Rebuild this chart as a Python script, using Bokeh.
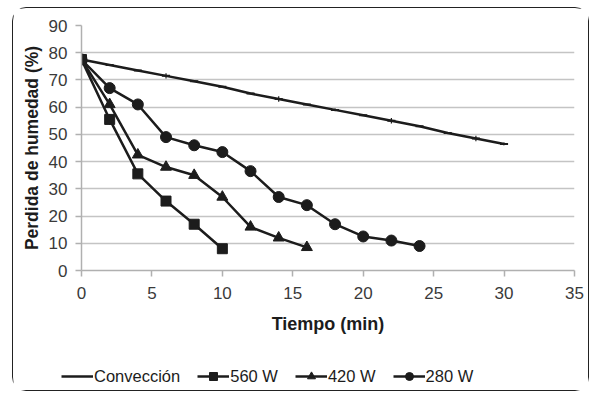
from bokeh.plotting import figure
from bokeh.layouts import column, row
from bokeh.models import Legend, LegendItem, Whisker, ColumnDataSource, FixedTicker
from bokeh.embed import file_html
from bokeh.resources import INLINE

# Data
t_conv = [0, 2, 4, 6, 8, 10, 12, 14, 16, 18, 20, 22, 24, 26, 28, 30]
conv = [77.5, 75.5, 73.5, 71.5, 69.5, 67.5, 65, 63, 61, 59, 57, 55, 53, 50.5, 48.5, 46.5]
conv_err = [0, 0, 0, 1, 0, 0, 0, 1, 0, 0.5, 0, 1, 0, 0, 1, 0.5]

t_560 = [0, 2, 4, 6, 8, 10]
w560 = [77.5, 55.5, 35.5, 25.5, 17, 8]
w560_err = [1.5, 2, 1, 0.5, 0.5, 0.5]

t_420 = [0, 2, 4, 6, 8, 10, 12, 14, 16]
w420 = [77.5, 61, 42.5, 38, 35, 27, 16, 12, 8.5]

t_280 = [0, 2, 4, 6, 8, 10, 12, 14, 16, 18, 20, 22, 24]
w280 = [77.5, 67, 61, 49, 46, 43.5, 36.5, 27, 24, 17, 12.5, 11, 9]

series_labels = ["Convección", "560 W", "420 W", "280 W"]
x_ticks = [0, 5, 10, 15, 20, 25, 30, 35]
y_ticks = [0, 10, 20, 30, 40, 50, 60, 70, 80, 90]

FONT = "Liberation Sans"
INK = "#1c1c1c"
LW = 2.5

p = figure(width=575, height=335, x_range=(0, 35), y_range=(0, 90),
           output_backend="svg", toolbar_location=None,
           min_border_left=68, min_border_right=14, min_border_top=17, min_border_bottom=73)
p.outline_line_color = None
p.background_fill_color = "white"
p.border_fill_color = "white"

p.xgrid.grid_line_color = None
p.ygrid.grid_line_color = "#c4c4c4"
p.ygrid.grid_line_width = 1.5

p.xaxis.ticker = FixedTicker(ticks=x_ticks)
p.yaxis.ticker = FixedTicker(ticks=y_ticks)
for ax in (p.xaxis, p.yaxis):
    ax.axis_line_color = "#b0b0b0"
    ax.axis_line_width = 1.5
    ax.major_tick_line_color = "#b0b0b0"
    ax.major_tick_line_width = 1.5
    ax.major_tick_in = 0
    ax.major_tick_out = 6
    ax.minor_tick_line_color = None
    ax.major_label_text_font = FONT
    ax.major_label_text_font_size = "17px"
    ax.major_label_text_color = "#3a3a3a"
    ax.axis_label_text_font = FONT
    ax.axis_label_text_font_style = "bold"
    ax.axis_label_text_color = INK
p.xaxis.axis_label_text_font_size = "18px"
p.yaxis.axis_label_text_font_size = "17.5px"
p.xaxis.major_label_standoff = 10
p.yaxis.major_label_standoff = 8
p.xaxis.axis_label = "Tiempo (min)"
p.yaxis.axis_label = "Perdida de humedad (%)"
p.xaxis.axis_label_standoff = 12
p.yaxis.axis_label_standoff = 4

# Error bars
src_c = ColumnDataSource(dict(x=t_conv, y=conv,
                              lo=[v - e for v, e in zip(conv, conv_err)],
                              hi=[v + e for v, e in zip(conv, conv_err)]))
p.add_layout(Whisker(source=src_c, base="x", lower="lo", upper="hi",
                     line_color=INK, line_width=1.2,
                     upper_head=None, lower_head=None))
src_5 = ColumnDataSource(dict(x=t_560, y=w560,
                              lo=[v - e for v, e in zip(w560, w560_err)],
                              hi=[v + e for v, e in zip(w560, w560_err)]))
p.add_layout(Whisker(source=src_5, base="x", lower="lo", upper="hi",
                     line_color=INK, line_width=1.2,
                     upper_head=None, lower_head=None))

p.line(t_conv, conv, line_color=INK, line_width=LW)
p.scatter(t_conv, conv, marker="dash", size=8, line_color=INK, line_width=2)
p.line(t_560, w560, line_color=INK, line_width=LW)
p.scatter(t_560, w560, marker="square", size=10, fill_color=INK, line_color=INK)
p.line(t_420, w420, line_color=INK, line_width=LW)
p.scatter(t_420, w420, marker="triangle", size=11, fill_color=INK, line_color=INK)
p.line(t_280, w280, line_color=INK, line_width=LW)
p.scatter(t_280, w280, marker="circle", size=11, fill_color=INK, line_color=INK)

# Legend strip (separate small figure; its series are drawn off-range, only the legend shows)
lf = figure(width=575, height=47, x_range=(1000, 1001), y_range=(1000, 1001),
            output_backend="svg", toolbar_location=None,
            x_axis_type=None, y_axis_type=None,
            min_border=0, min_border_left=0, min_border_right=0,
            min_border_top=0, min_border_bottom=0)
lf.outline_line_color = None
lf.grid.visible = False
lf.background_fill_color = "white"
lf.border_fill_color = "white"

l_c = lf.line(t_conv, conv, line_color=INK, line_width=LW)
l_5 = [lf.line(t_560, w560, line_color=INK, line_width=LW),
       lf.scatter(t_560, w560, marker="square", size=7, fill_color=INK, line_color=INK)]
l_4 = [lf.line(t_420, w420, line_color=INK, line_width=LW),
       lf.scatter(t_420, w420, marker="triangle", size=8, fill_color=INK, line_color=INK)]
l_2 = [lf.line(t_280, w280, line_color=INK, line_width=LW),
       lf.scatter(t_280, w280, marker="circle", size=7, fill_color=INK, line_color=INK)]

legend = Legend(items=[
    LegendItem(label=series_labels[0], renderers=[l_c]),
    LegendItem(label=series_labels[1], renderers=l_5),
    LegendItem(label=series_labels[2], renderers=l_4),
    LegendItem(label=series_labels[3], renderers=l_2),
], orientation="horizontal", location=(48, 4))
legend.label_text_font = FONT
legend.label_text_font_size = "16.5px"
legend.label_text_color = INK
legend.glyph_width = 32
legend.label_standoff = 1
legend.spacing = 17
legend.border_line_color = None
legend.background_fill_alpha = 0
legend.margin = 0
legend.padding = 0
lf.add_layout(legend)

layout = column(p, row(lf), spacing=0)
layout.margin = (7, 1, 3, 12)
layout.styles = {"border": "1.5px solid #222", "border-radius": "14px", "background": "white"}

open("out.html", "w").write(file_html(layout, INLINE))
